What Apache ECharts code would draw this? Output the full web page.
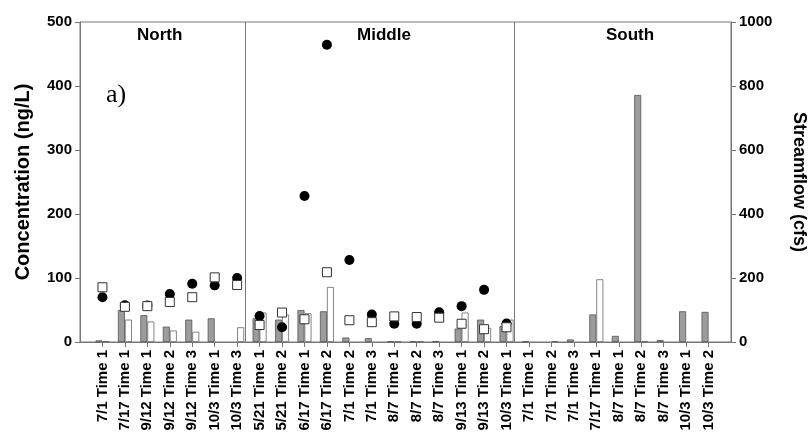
<!DOCTYPE html>
<html>
<head>
<meta charset="utf-8">
<script src="https://cdn.jsdelivr.net/npm/echarts@6/dist/echarts.min.js"></script>
<style>html,body{margin:0;padding:0;background:#fff}#c{width:811px;height:432px}</style>
</head>
<body>
<div id="c"></div>
<script>
const categories = ['7/1 Time 1','7/17 Time 1','9/12 Time 1','9/12 Time 2','9/12 Time 3','10/3 Time 1','10/3 Time 3',
  '5/21 Time 1','5/21 Time 2','6/17 Time 1','6/17 Time 2','7/1 Time 2','7/1 Time 3','8/7 Time 1','8/7 Time 2','8/7 Time 3','9/13 Time 1','9/13 Time 2','10/3 Time 1',
  '7/1 Time 1','7/1 Time 2','7/1 Time 3','7/17 Time 1','8/7 Time 1','8/7 Time 2','8/7 Time 3','10/3 Time 1','10/3 Time 2'];
const regions = ['North','Middle','South'];
const regionBounds = [7.5, 19.5];
// Concentration (ng/L), left axis
const grayBars  = [2.5, 50, 42, 24, 35, 37, null, 37, 35, 50, 48, 7, 6, 1, 1, 1.5, 21, 35, 25, 0.7, null, 4, 43, 9.5, 386, 3, 48, 47];
const whiteBars = [1.5, 35, 32, 18, 16, null, 23, 46, 43, 45, 86, null, null, 0.5, 0.5, null, 46, 22, 35, null, 1.5, null, 98, null, 1.5, null, null, null];
// Streamflow (cfs), right axis
const circles = [140, 115, 114, 150, 182, 177, 200, 81, 46, 456, 929, 256, 86, 57, 57, 93, 112, 163, 58, null, null, null, null, null, null, null, null, null];
const squares = [171, 110, 112, 125, 140, 202, 178, 53, 92, 71, 218, 68, 62, 80, 78, 76, 57, 40, 46, null, null, null, null, null, null, null, null, null];
const leftTicks = [0, 100, 200, 300, 400, 500];
const rightTicks = [0, 200, 400, 600, 800, 1000];

const pairs = arr => arr.map((v, i) => [i + 1, v]).filter(p => p[1] !== null);
const positions = categories.map((c, i) => i + 1);

const chart = echarts.init(document.getElementById('c'), null, {renderer: 'canvas'});
const axisColor = '#777';
const lblFont = {color: '#000', fontWeight: 'bold', fontFamily: 'Liberation Sans, Arial, sans-serif'};
chart.setOption({
  animation: false,
  grid: {left: 80, right: 80, top: 22, bottom: 90, containLabel: false, outerBoundsMode: 'none',
    show: true, borderColor: axisColor, borderWidth: 1},
  xAxis: {
    type: 'value', min: 0, max: 29, interval: 1,
    axisLine: {show: true, lineStyle: {color: axisColor}},
    axisTick: {show: true, length: 5, lineStyle: {color: axisColor}, customValues: positions},
    axisLabel: Object.assign({rotate: 90, fontSize: 15, margin: 8, customValues: positions,
      formatter: v => categories[Math.round(v) - 1] || ''}, lblFont),
    splitLine: {show: false}
  },
  yAxis: [{
    type: 'value', min: leftTicks[0], max: leftTicks[leftTicks.length - 1], interval: 100,
    name: 'Concentration (ng/L)', nameLocation: 'middle', nameRotate: 90, nameGap: 47,
    nameTextStyle: Object.assign({fontSize: 20}, lblFont),
    axisLine: {show: true, lineStyle: {color: axisColor}},
    axisTick: {show: true, length: 5, lineStyle: {color: axisColor}},
    axisLabel: Object.assign({fontSize: 15, margin: 8, formatter: v => String(v)}, lblFont),
    splitLine: {show: false}
  }, {
    type: 'value', min: rightTicks[0], max: rightTicks[rightTicks.length - 1], interval: 200,
    position: 'right',
    name: 'Streamflow (cfs)', nameLocation: 'middle', nameRotate: -90, nameGap: 59,
    nameTextStyle: Object.assign({fontSize: 18}, lblFont),
    axisLine: {show: true, lineStyle: {color: axisColor}},
    axisTick: {show: true, length: 5, lineStyle: {color: axisColor}},
    axisLabel: Object.assign({fontSize: 15, margin: 8, formatter: v => String(v)}, lblFont),
    splitLine: {show: false}
  }],
  graphic: [
    {type: 'text', left: 162 - 25, top: 27, style: {text: regions[0], font: 'bold 17px "Liberation Sans", Arial', fill: '#000'}},
    {type: 'text', left: 385 - 28, top: 27, style: {text: regions[1], font: 'bold 17px "Liberation Sans", Arial', fill: '#000'}},
    {type: 'text', left: 631 - 25, top: 27, style: {text: regions[2], font: 'bold 17px "Liberation Sans", Arial', fill: '#000'}},
    {type: 'text', left: 106, top: 82, style: {text: 'a)', font: '26px "Liberation Serif", "Times New Roman", serif', fill: '#000'}}
  ],
  series: [{
    type: 'bar', name: 'gray', data: pairs(grayBars), yAxisIndex: 0,
    barWidth: 7, barGap: '0%',
    itemStyle: {color: '#9c9c9c', borderColor: '#555', borderWidth: 0.8},
    markLine: {silent: true, symbol: ['none', 'none'], label: {show: false},
      lineStyle: {color: axisColor, type: 'solid', width: 1},
      data: regionBounds.map(v => ({xAxis: v}))},
    z: 2
  }, {
    type: 'bar', name: 'white', data: pairs(whiteBars), yAxisIndex: 0,
    barWidth: 7, barGap: '0%',
    itemStyle: {color: '#fff', borderColor: '#666', borderWidth: 0.8},
    z: 2
  }, {
    type: 'scatter', name: 'circle', data: pairs(circles), yAxisIndex: 1,
    symbol: 'circle', symbolSize: 10,
    itemStyle: {color: '#000', opacity: 1}, z: 3
  }, {
    type: 'scatter', name: 'square', data: pairs(squares), yAxisIndex: 1,
    symbol: 'rect', symbolSize: 9,
    itemStyle: {color: '#fff', borderColor: '#333', borderWidth: 1, opacity: 1}, z: 4
  }]
});
</script>
</body>
</html>
